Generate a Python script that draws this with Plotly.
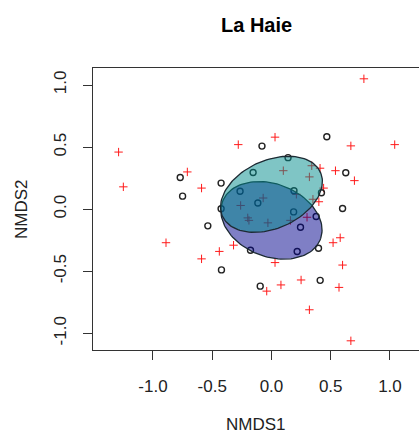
import numpy as np
import plotly.graph_objects as go

# Site scores (red crosses)
species_x = [-1.29, -1.25, -0.71, -0.59, -0.28, 0.78, 0.03, 0.67, 1.04, 0.54,
             0.70, 0.41, 0.10, 0.34, 0.32, 0.21, 0.35, 0.40, 0.44, -0.07,
             0.30, -0.89, -0.59, -0.44, -0.32, -0.26, -0.20, -0.19, 0.58, 0.52,
             0.60, 0.03, 0.25, 0.08, -0.04, 0.57, 0.32, 0.67, -0.03, 0.16]
species_y = [0.46, 0.18, 0.30, 0.17, 0.52, 1.05, 0.58, 0.51, 0.52, 0.31,
             0.23, 0.33, 0.31, 0.35, 0.26, 0.12, 0.08, 0.06, 0.17, 0.09,
             -0.065, -0.27, -0.40, -0.34, -0.29, 0.03, -0.07, -0.09, -0.23, -0.27,
             -0.45, -0.43, -0.57, -0.61, -0.66, -0.63, -0.81, -1.06, -0.11, -0.09]

# Sample scores (open circles)
sites_x = [-0.77, -0.75, -0.425, -0.155, -0.265, -0.115, -0.425, -0.08, 0.467, 0.14,
           0.627, 0.19, 0.422, 0.187, 0.60, -0.537, -0.422, -0.177, -0.095, 0.377,
           0.245, 0.217, 0.397, 0.411]
sites_y = [0.255, 0.105, 0.21, 0.295, 0.145, 0.05, 0.003, 0.508, 0.583, 0.415,
           0.293, 0.148, 0.132, -0.022, 0.005, -0.134, -0.489, -0.331, -0.62, -0.059,
           -0.145, -0.341, -0.315, -0.573]

# Group ellipses: centre x, centre y, semi-major, semi-minor, angle (deg)
ellipse_names = ["group B", "group A"]
ellipse_cx = [0.0, 0.0]
ellipse_cy = [-0.09, 0.12]
ellipse_a = [0.44, 0.45]
ellipse_b = [0.294, 0.276]
ellipse_angle = [-19.0, 22.0]
ellipse_fill = ["rgba(0,0,139,0.5)", "rgba(0,139,139,0.5)"]

fig = go.Figure()

fig.add_trace(go.Scatter(
    x=species_x, y=species_y, mode="markers",
    marker=dict(symbol="cross-thin", size=6, line=dict(color="#ff1a1a", width=1)),
    showlegend=False, hoverinfo="skip"))

fig.add_trace(go.Scatter(
    x=sites_x, y=sites_y, mode="markers",
    marker=dict(symbol="circle-open", size=6, color="#222222", line=dict(width=1.4)),
    showlegend=False, hoverinfo="skip"))

t = np.linspace(0, 2 * np.pi, 120)
for name, cx, cy, a, b, ang, col in zip(ellipse_names, ellipse_cx, ellipse_cy,
                                        ellipse_a, ellipse_b, ellipse_angle, ellipse_fill):
    th = np.deg2rad(ang)
    ex = cx + a * np.cos(t) * np.cos(th) - b * np.sin(t) * np.sin(th)
    ey = cy + a * np.cos(t) * np.sin(th) + b * np.sin(t) * np.cos(th)
    fig.add_trace(go.Scatter(
        x=ex, y=ey, mode="lines", fill="toself", fillcolor=col,
        line=dict(color="#1c2a33", width=1.3), name=name,
        showlegend=False, hoverinfo="skip"))

font_family = "Liberation Sans, Arial, sans-serif"

fig.update_layout(
    width=419, height=436,
    margin=dict(l=93, r=0, t=68, b=86),
    paper_bgcolor="white", plot_bgcolor="white",
    font=dict(family=font_family, size=17, color="#222222"),
    xaxis=dict(range=[-1.506, 1.245], tickvals=[-1.0, -0.5, 0.0, 0.5, 1.0],
               ticktext=["-1.0", "-0.5", "0.0", "0.5", "1.0"],
               showgrid=False, zeroline=False, showline=True, mirror=True,
               linecolor="#333333", linewidth=1, ticks="outside", ticklen=9,
               tickcolor="#333333", ticklabelstandoff=12),
    yaxis=dict(range=[-1.134, 1.137], tickvals=[-1.0, -0.5, 0.0, 0.5, 1.0],
               ticktext=["-1.0", "-0.5", "0.0", "0.5", "1.0"],
               showgrid=False, zeroline=False, showline=True, mirror=True,
               linecolor="#333333", linewidth=1, ticks="outside", ticklen=9,
               tickcolor="#333333", tickangle=-90, ticklabelstandoff=10),
    annotations=[
        dict(text="<b>La Haie</b>", xref="paper", yref="paper", x=0.5, y=1,
             xanchor="center", yanchor="middle", yshift=43, showarrow=False,
             font=dict(size=20, color="#000000")),
        dict(text="NMDS1", xref="paper", yref="paper", x=0.5, y=0,
             xanchor="center", yanchor="middle", yshift=-74, showarrow=False,
             font=dict(size=17)),
        dict(text="NMDS2", xref="paper", yref="paper", x=0, y=0.5,
             xanchor="center", yanchor="middle", xshift=-72, textangle=-90,
             showarrow=False, font=dict(size=17)),
    ],
)

fig.write_html("out.html")
